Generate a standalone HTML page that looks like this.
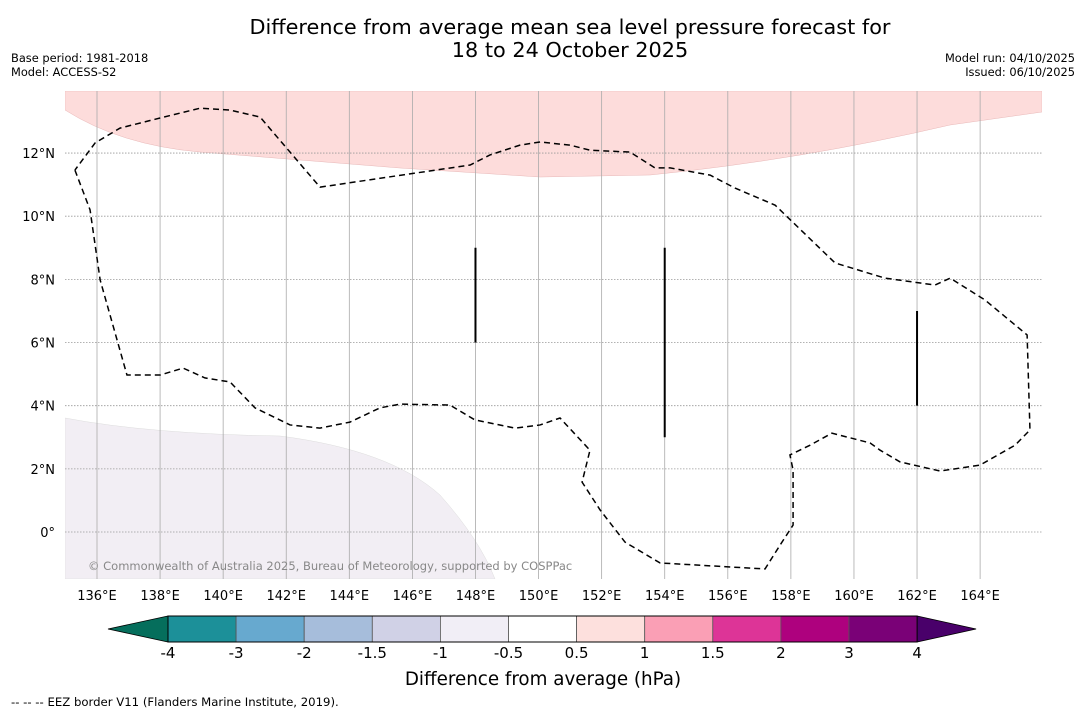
<!DOCTYPE html>
<html><head><meta charset="utf-8"><style>
body{margin:0;background:#fff;font-family:"DejaVu Sans","Liberation Sans",sans-serif;}
svg text{font-family:"DejaVu Sans","Liberation Sans",sans-serif;}
</style></head><body>
<svg id="c" width="1085" height="713" xmlns="http://www.w3.org/2000/svg">
<text x="570" y="34" font-size="20.8" text-anchor="middle">Difference from average mean sea level pressure forecast for</text>
<text x="570" y="57" font-size="20.8" text-anchor="middle">18 to 24 October 2025</text>
<text x="11" y="62" font-size="11.4">Base period: 1981-2018</text>
<text x="11" y="76" font-size="11.4">Model: ACCESS-S2</text>
<text x="1075" y="62" font-size="11.4" text-anchor="end">Model run: 04/10/2025</text>
<text x="1075" y="76" font-size="11.4" text-anchor="end">Issued: 06/10/2025</text>
<defs><clipPath id="mc"><rect x="65" y="91" width="977" height="488"/></clipPath></defs>
<g id="map" clip-path="url(#mc)">
<path d="M65,110 Q120,145 200,152 L400,168 L540,177 L650,175 Q800,160 950,125 L1042,112 L1042,91 L65,91Z" fill="#fddcdb" stroke="#e8b8b8" stroke-width="0.5"/>
<path d="M65,418 Q150,434 280,436 Q390,450 440,495 Q480,540 495,579 L65,579Z" fill="#f2eef4" stroke="#ddd" stroke-width="0.5"/>
<g id="grid"></g>
<g id="marks"></g>
<text x="88" y="570" font-size="11.5" fill="#888">© Commonwealth of Australia 2025, Bureau of Meteorology, supported by COSPPac</text>
</g>
<g id="axis"></g>
<g id="cbar"></g>
<text x="543" y="685" font-size="18.3" text-anchor="middle">Difference from average (hPa)</text>
<text x="11" y="706" font-size="11.7">--  --  -- EEZ border V11 (Flanders Marine Institute, 2019).</text>
</svg>
<script>
const lonTicks=[136,138,140,142,144,146,148,150,152,154,156,158,160,162,164];
const latTicks=[0,2,4,6,8,10,12];
const eezLon=[135.30,135.78,136.10,136.95,138.0,138.73,139.42,140.22,141.01,142.12,143.07,144.02,144.97,145.61,147.19,147.98,149.25,150.05,150.68,151.63,151.38,151.95,152.74,153.85,157.18,157.66,158.07,158.07,157.97,158.61,159.30,160.51,160.83,161.46,162.73,164.0,165.11,165.58,165.49,164.15,163.05,162.57,160.98,159.40,157.50,156.23,155.44,154.17,153.69,152.90,151.63,151.0,150.05,149.41,148.46,147.83,145.92,143.07,141.17,140.22,139.27,138.0,136.73,135.94,135.30];
const eezLat=[11.46,10.20,7.98,4.97,4.97,5.19,4.88,4.75,3.93,3.39,3.29,3.48,3.93,4.05,4.02,3.55,3.29,3.39,3.61,2.59,1.58,0.70,-0.32,-0.98,-1.17,-0.41,0.22,1.96,2.44,2.75,3.13,2.82,2.59,2.22,1.93,2.12,2.75,3.23,6.24,7.35,8.04,7.82,8.04,8.52,10.35,10.89,11.30,11.53,11.53,12.03,12.09,12.25,12.35,12.25,11.94,11.62,11.34,10.92,13.14,13.36,13.42,13.11,12.79,12.32,11.46];
const barLon=[148,154,162];
const barLatTop=[9,9,7];
const barLatBot=[6,3,4];
const cbLevels=["-4","-3","-2","-1.5","-1","-0.5","0.5","1","1.5","2","3","4"];
const cbColors=["#1c9099","#67a9cf","#a6bddb","#d0d1e6","#f1eef6","#ffffff","#fde0dd","#fa9fb5","#dd3497","#ae017e","#7a0177"];
const cbUnder="#056e5c", cbOver="#49006a";
const X=l=>97+(l-136)*31.54, Y=l=>532-l*31.58;
const NS="http://www.w3.org/2000/svg";
function mk(t,a,p){const e=document.createElementNS(NS,t);for(const k in a)e.setAttribute(k,a[k]);p.appendChild(e);return e;}
const grid=document.getElementById('grid'),axis=document.getElementById('axis'),marks=document.getElementById('marks'),cb=document.getElementById('cbar');
lonTicks.forEach(l=>{const e=mk('line',{x1:X(l),x2:X(l),y1:91,y2:579,stroke:'#aaa','stroke-width':0.8},grid);


const t=mk('text',{x:X(l),y:600,'font-size':13,'text-anchor':'middle'},axis);t.textContent=l+'°E';

});
latTicks.forEach(l=>{const e=mk('line',{x1:65,x2:1042,y1:Y(l),y2:Y(l),stroke:'#999','stroke-width':0.8,'stroke-dasharray':'1.5,1.5'},grid);


const t=mk('text',{x:55,y:Y(l)+5,'font-size':13,'text-anchor':'end'},axis);t.textContent=l===0?'0°':l+'°N';

});
const pe=mk('polyline',{points:eezLon.map((l,i)=>X(l)+','+Y(eezLat[i])).join(' '),fill:'none',stroke:'#000','stroke-width':1.5,'stroke-dasharray':'6,4'},marks);


barLon.forEach((l,i)=>{const e=mk('line',{x1:X(l),x2:X(l),y1:Y(barLatTop[i]),y2:Y(barLatBot[i]),stroke:'#000','stroke-width':2},marks);

});
const cx0=168,cw=68.1,cy=616,ch=26;
const tl=mk('polygon',{points:`108,${cy+ch/2} ${cx0},${cy} ${cx0},${cy+ch}`,fill:cbUnder,stroke:'#000','stroke-width':0.8},cb);


const xe=cx0+cbColors.length*cw;
const tr=mk('polygon',{points:`${xe},${cy} ${xe+59},${cy+ch/2} ${xe},${cy+ch}`,fill:cbOver,stroke:'#000','stroke-width':0.8},cb);


cbColors.forEach((c,i)=>{const r=mk('rect',{x:cx0+i*cw,y:cy,width:cw,height:ch,fill:c,stroke:'#555','stroke-width':0.8},cb);

});
mk('rect',{x:cx0,y:cy,width:cbColors.length*cw,height:ch,fill:'none',stroke:'#000','stroke-width':1},cb);
cbLevels.forEach((v,i)=>{const t=mk('text',{x:cx0+i*cw,y:658,'font-size':15,'text-anchor':'middle'},cb);t.textContent=v;

});
</script>
</body></html>
